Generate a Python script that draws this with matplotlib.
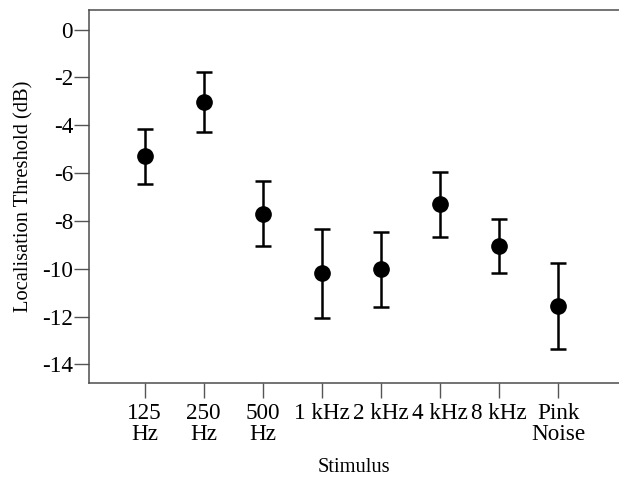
import numpy as np
import matplotlib.pyplot as plt

plt.rcParams['font.family'] = ['Liberation Serif', 'DejaVu Serif']

# localisation thresholds per stimulus (mean and error half-width, dB)
stimuli = ['125\nHz', '250\nHz', '500\nHz', '1 kHz', '2 kHz', '4 kHz', '8 kHz', 'Pink\nNoise']
thresholds = [-5.29, -3.02, -7.70, -10.19, -10.03, -7.31, -9.05, -11.56]
errors = [1.15, 1.25, 1.35, 1.87, 1.55, 1.35, 1.13, 1.81]
yticks = [0, -2, -4, -6, -8, -10, -12, -14]

fig = plt.figure(figsize=(6.19, 4.78), dpi=100)
ax = fig.add_axes([0.1438, 0.1987, 0.8562, 0.7803])

x = np.arange(len(stimuli))
ax.errorbar(x, thresholds, yerr=errors, fmt='o', color='black', ms=11,
            elinewidth=1.8, capsize=5.8, capthick=1.8)

ax.set_xlim(-0.94, 8.03)
ax.set_ylim(-14.78, 0.82)
ax.set_xticks(x)
ax.set_xticklabels(stimuli, linespacing=1.0)
ax.set_yticks(yticks)
ax.set_yticklabels([str(v) for v in yticks])

for side in ['left', 'bottom', 'top']:
    ax.spines[side].set_color('#4d4d4d')
    ax.spines[side].set_linewidth(1.1)
ax.spines['right'].set_visible(False)

ax.tick_params(axis='both', direction='out', length=10.5, width=1.0,
               color='#555555', labelsize=16.7)
ax.tick_params(axis='y', pad=1)
ax.tick_params(axis='x', pad=4)

ax.set_ylabel('Localisation Threshold (dB)', fontsize=14.8, labelpad=6)
ax.set_xlabel('Stimulus', fontsize=14.8, labelpad=9)

fig.savefig('out.png', dpi=100)
